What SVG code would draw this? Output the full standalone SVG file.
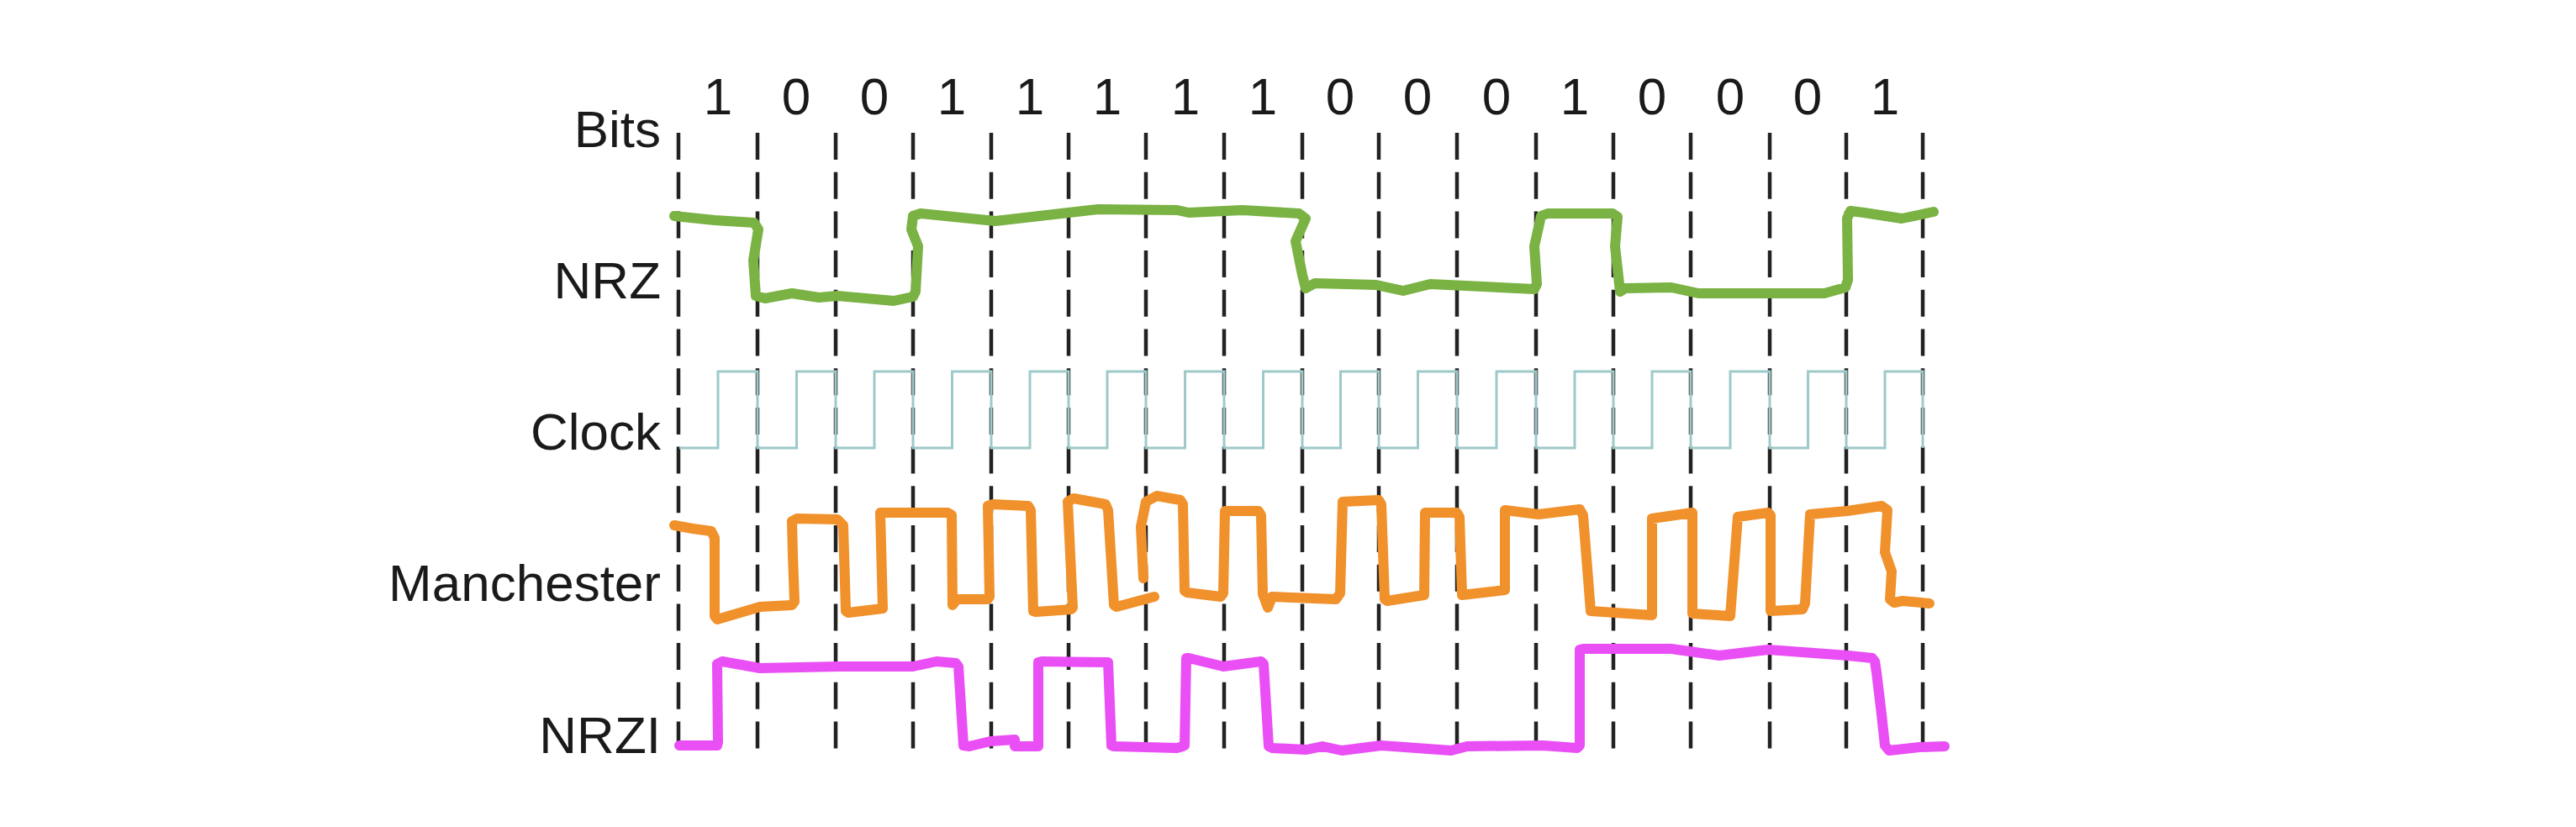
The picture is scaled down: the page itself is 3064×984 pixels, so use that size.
<svg xmlns="http://www.w3.org/2000/svg" width="3064" height="984" viewBox="0 0 3064 984">
<style>
.lbl{font-family:"Liberation Sans",Arial,sans-serif;font-size:62px;fill:#1a1a1a;text-anchor:end}
.bit{font-family:"Liberation Sans",Arial,sans-serif;font-size:62px;fill:#1a1a1a;text-anchor:middle}
.grid line{stroke:#222;stroke-width:4.5;stroke-dasharray:32 14.7}
.sig{fill:none;stroke-linejoin:round;stroke-linecap:round;stroke-width:12}
</style>
<rect width="3064" height="984" fill="#fff"/>
<g id="grid" class="grid">
<line x1="807" y1="158" x2="807" y2="891"/>
<line x1="901" y1="158" x2="901" y2="891"/>
<line x1="994" y1="158" x2="994" y2="891"/>
<line x1="1086" y1="158" x2="1086" y2="891"/>
<line x1="1179" y1="158" x2="1179" y2="891"/>
<line x1="1271" y1="158" x2="1271" y2="891"/>
<line x1="1363" y1="158" x2="1363" y2="891"/>
<line x1="1456" y1="158" x2="1456" y2="891"/>
<line x1="1549" y1="158" x2="1549" y2="891"/>
<line x1="1640" y1="158" x2="1640" y2="891"/>
<line x1="1733" y1="158" x2="1733" y2="891"/>
<line x1="1827" y1="158" x2="1827" y2="891"/>
<line x1="1919" y1="158" x2="1919" y2="891"/>
<line x1="2011" y1="158" x2="2011" y2="891"/>
<line x1="2105" y1="158" x2="2105" y2="891"/>
<line x1="2196" y1="158" x2="2196" y2="891"/>
<line x1="2287" y1="158" x2="2287" y2="891"/>
</g>
<g id="labels">
<text class="lbl" x="786" y="175">Bits</text>
<text class="lbl" x="786" y="355">NRZ</text>
<text class="lbl" x="786" y="535">Clock</text>
<text class="lbl" x="786" y="715">Manchester</text>
<text class="lbl" x="786" y="896">NRZI</text>
</g>
<g id="bits">
<text class="bit" x="854" y="136">1</text>
<text class="bit" x="947" y="136">0</text>
<text class="bit" x="1040" y="136">0</text>
<text class="bit" x="1132" y="136">1</text>
<text class="bit" x="1225" y="136">1</text>
<text class="bit" x="1317" y="136">1</text>
<text class="bit" x="1410" y="136">1</text>
<text class="bit" x="1502" y="136">1</text>
<text class="bit" x="1594" y="136">0</text>
<text class="bit" x="1686" y="136">0</text>
<text class="bit" x="1780" y="136">0</text>
<text class="bit" x="1873" y="136">1</text>
<text class="bit" x="1965" y="136">0</text>
<text class="bit" x="2058" y="136">0</text>
<text class="bit" x="2150" y="136">0</text>
<text class="bit" x="2242" y="136">1</text>
</g>
<g id="clock">
<path fill="none" stroke="#9ec9c9" stroke-width="3" d="M808,533 H854 V442 H901 V533 H947.5 V442 H994 V533 H1040 V442 H1086 V533 H1132.5 V442 H1179 V533 H1225 V442 H1271 V533 H1317 V442 H1363 V533 H1409.5 V442 H1456 V533 H1502.5 V442 H1549 V533 H1594.5 V442 H1640 V533 H1686.5 V442 H1733 V533 H1780 V442 H1827 V533 H1873 V442 H1919 V533 H1965 V442 H2011 V533 H2058 V442 H2105 V533 H2150.5 V442 H2196 V533 H2242 V442 H2287 V533"/>
</g>
<g id="nrz">
<path class="sig" stroke="#7ab243" d="M802,257 L850,262 L897,265 L902,273 L896,310 L899,352 L910,355 L942,349 L974,354 L996,352 L1063,358 L1086,353 L1089,347 L1092,293 L1084,273 L1086,257 L1095,254 L1184,263 L1306,249 L1400,250 L1414,253 L1478,250 L1545,254 L1553,260 L1541,287 L1549,327 L1553,343 L1564,337 L1637,339 L1669,346 L1701,338 L1825,344 L1828,338 L1825,293 L1833,257 L1841,254 L1918,254 L1924,258 L1921,293 L1927,347 L1933,343 L1988,342 L2020,349 L2170,349 L2195,342 L2198,333 L2197,260 L2201,251 L2217,253 L2262,260 L2300,252"/>
</g>
<g id="manchester">
<path class="sig" stroke="#f0912b" d="M802,625 L824,629 L846,632 L850,640 L850,733 L853,737 L904,722 L942,720 L945,716 L943,660 L942,620 L948,617 L996,618 L1003,625 L1006,727 L1009,729 L1050,724 L1047,610 L1127,610 L1132,613 L1133,720 L1138,713 L1175,713 L1177,710 L1175,602 L1181,600 L1223,602 L1226,607 L1229,727 L1232,728 L1274,725 L1276,723 L1270,597 L1277,593 L1315,600 L1318,607 L1325,720 L1328,722 L1373,710"/>
<path class="sig" stroke="#f0912b" d="M1360,688 L1357,627 L1363,597 L1376,590 L1404,595 L1407,600 L1409,703 L1412,705 L1452,710 L1455,706 L1457,608 L1497,608 L1500,613 L1502,707 L1508,723 L1513,710 L1589,713 L1594,706 L1597,597 L1640,595 L1643,600 L1647,713 L1650,715 L1694,708 L1695,610 L1733,610 L1736,615 L1739,708 L1790,702 L1790,607 L1830,612 L1879,606 L1883,613 L1892,727 L1965,732 L1965,617 L2013,610 L2013,730 L2058,733 L2067,615 L2103,610 L2106,613 L2106,727 L2144,725 L2147,718 L2153,612 L2197,608 L2238,602 L2245,607 L2242,657 L2250,680 L2248,713 L2253,717 L2263,715 L2295,718"/>
</g>
<g id="nrzi">
<path class="sig" stroke="#e94ff4" d="M808,887 L853,887 L854,883 L853,790 L859,787 L904,795 L999,793 L1086,793 L1114,787 L1137,789 L1140,793 L1146,887 L1153,888 L1178,882 L1207,880 L1207,888 L1235,888 L1235,788 L1239,787 L1318,788 L1322,887 L1325,888 L1400,890 L1407,888 L1409,887 L1411,783 L1414,783 L1455,793 L1500,787 L1503,790 L1509,888 L1513,890 L1554,892 L1573,888 L1596,893 L1643,887 L1726,893 L1745,888 L1835,887 L1876,890 L1879,887 L1879,773 L1883,772 L1988,772 L2045,780 L2103,773 L2198,780 L2227,783 L2230,787 L2232,800 L2238,850 L2242,887 L2247,893 L2283,889 L2313,888"/>
</g>
</svg>
